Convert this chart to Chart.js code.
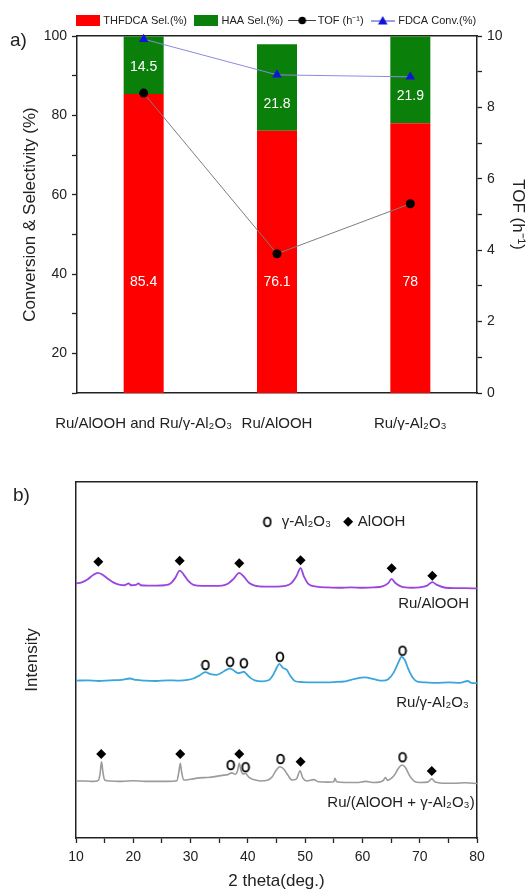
<!DOCTYPE html>
<html>
<head>
<meta charset="utf-8">
<title>Ru catalysts: selectivity, TOF and XRD</title>
<script src="https://cdn.jsdelivr.net/npm/chart.js@4.4.0/dist/chart.umd.min.js"></script>
<style>
  body { margin: 0; background: #fff; }
  #page { position: relative; width: 530px; height: 890px; overflow: hidden; font-family: "Liberation Sans", Arial, sans-serif; color: #222; }
  #page canvas { position: absolute; left: 0; }
  #perf { top: 0; }
  #xrd { top: 430px; }
  .tag { position: absolute; font-size: 19px; line-height: 22px; }
</style>
</head>
<body>
<div id="page">
  <canvas id="perf" width="530" height="430"></canvas>
  <canvas id="xrd" width="530" height="460"></canvas>
  <div class="tag" style="left:10px; top:29px;">a)</div>
  <div class="tag" style="left:13px; top:484px;">b)</div>
</div>
<script>
// ---- a) catalytic performance ----
const catalysts = ['Ru/AlOOH and Ru/γ-Al₂O₃', 'Ru/AlOOH', 'Ru/γ-Al₂O₃'];
const thfdcaSel = [85.4, 76.1, 78];
const haaSel = [14.5, 21.8, 21.9];
const tof = [8.4, 3.9, 5.3];
const fdcaConv = [99.2, 90.2, 89.7];

// ---- b) XRD patterns, [2theta, intensity] ----
const aloohTrace = [
  [10, 71.5], [11, 71.8], [12, 72.6], [13, 73.9], [13.8, 74.5], [14.5, 74.1], [15.5, 72.9], [16.5, 71.8],
  [17.5, 71.2], [18.5, 71.0], [19.2, 71.5], [19.6, 71.0], [20.5, 71.1], [20.9, 71.5], [21.3, 71.0], [22.5, 70.9],
  [24, 70.9], [25.5, 71.0], [26.5, 71.5], [27.3, 73.0], [28.1, 75.1], [28.8, 74.0], [29.6, 72.2], [30.5, 71.1],
  [32, 70.8], [34, 70.8], [35.5, 70.9], [36.5, 71.4], [37.5, 72.8], [38.5, 74.5], [39.3, 73.4], [40.2, 71.7],
  [41.2, 70.9], [43, 70.6], [45, 70.6], [46.5, 70.8], [47.6, 71.6], [48.5, 73.6], [49.2, 75.8], [49.8, 73.4],
  [50.6, 71.3], [52, 70.6], [54, 70.4], [56, 70.3], [58, 70.4], [60, 70.3], [62, 70.4], [63.5, 70.7],
  [64.5, 71.6], [65.1, 72.8], [65.7, 71.7], [66.8, 70.6], [68.5, 70.3], [70, 70.4], [71.3, 70.9], [72.2, 71.9],
  [73.0, 71.1], [74.5, 70.3], [76, 70.2], [78, 70.2], [80, 70.1]
];
const aluminaTrace = [
  [10, 44.2], [12, 44.3], [14, 44.1], [16, 44.3], [18, 44.4], [19.4, 44.8], [20.5, 44.4], [22, 44.2],
  [24, 44.1], [26, 44.3], [28, 44.2], [29.5, 44.4], [30.5, 44.8], [31.5, 45.6], [32.6, 46.6], [33.5, 46.0],
  [34.5, 45.8], [35.5, 46.5], [36.3, 47.3], [36.9, 47.6], [37.6, 47.0], [38.3, 46.3], [38.9, 46.5], [39.3, 46.7],
  [39.8, 46.0], [40.5, 44.9], [41.2, 44.3], [42.5, 44.0], [43.6, 44.3], [44.4, 45.8], [45.0, 47.7], [45.5, 48.9],
  [46.1, 47.8], [46.8, 47.2], [47.4, 45.6], [48.2, 44.1], [49.5, 43.8], [51, 43.7], [53, 43.7], [55, 43.8],
  [57, 44.0], [58.5, 44.6], [60.4, 45.1], [62, 44.6], [63.5, 44.2], [64.5, 44.6], [65.5, 46.6], [66.3, 49.4],
  [66.8, 50.9], [67.4, 50.0], [68.0, 47.5], [68.8, 45.0], [69.6, 43.9], [71, 43.7], [73, 43.6], [75, 43.7],
  [77, 43.6], [78.4, 44.1], [79, 43.6], [80, 43.5]
];
const mixedTrace = [
  [10, 16.0], [11.5, 16.0], [13, 15.9], [13.9, 16.2], [14.2, 18.0], [14.45, 21.4], [14.7, 18.5], [15.0, 16.3],
  [16, 16.0], [18, 15.9], [20, 16.1], [22, 15.9], [24, 15.9], [26, 15.9], [27.6, 16.1], [27.95, 18.5],
  [28.2, 21.0], [28.45, 18.4], [28.8, 16.3], [30, 16.5], [31.5, 16.9], [33, 17.0], [34.5, 17.3], [35.5, 17.6],
  [36.5, 17.8], [37.2, 18.3], [37.8, 17.9], [38.2, 18.9], [38.5, 21.0], [38.8, 19.0], [39.1, 18.0], [39.6, 18.1],
  [40.2, 17.0], [41, 16.4], [42.2, 16.0], [43.4, 16.2], [44.3, 17.3], [45.0, 19.2], [45.6, 20.0], [46.3, 19.3],
  [47.0, 17.6], [47.7, 16.3], [48.5, 16.6], [49.1, 18.9], [49.6, 16.8], [50.3, 16.0], [51.5, 16.4], [52.3, 15.8],
  [54, 15.7], [55.0, 15.8], [55.2, 16.8], [55.5, 15.8], [57, 15.6], [59, 15.6], [60.6, 15.9], [62, 15.6],
  [63.6, 16.1], [64.0, 17.0], [64.4, 16.2], [64.9, 16.6], [65.6, 17.7], [66.3, 19.6], [66.9, 20.5], [67.5, 19.8],
  [68.2, 17.6], [69.0, 16.0], [70, 15.6], [71.4, 15.7], [72.1, 16.6], [72.7, 15.7], [74, 15.4], [76, 15.4],
  [78, 15.5], [80, 15.3]
];
// reflection markers: ◆ AlOOH, o γ-Al2O3
const aloohPeaks = [
  [13.9, 77.6], [28.1, 77.9], [38.5, 77.2], [49.2, 78.0], [65.1, 75.8], [72.2, 73.7],
  [14.4, 23.6], [28.2, 23.6], [38.5, 23.6], [49.2, 21.4], [72.1, 18.8]
];
const aluminaPeaks = [
  [32.6, 48.6], [36.9, 49.5], [39.3, 49.1], [45.6, 50.9], [67.0, 52.6],
  [37.0, 20.5], [39.6, 19.9], [45.7, 22.2], [67.0, 22.7]
];

const FONT = '"Liberation Sans", Arial, sans-serif';
const INK = '#222';
const RED = '#ff0000';
const GREEN = '#0a7f0a';

Chart.defaults.font.family = FONT;
Chart.defaults.color = INK;
Chart.defaults.animation = false;

function markCanvas(w, h, paint) {
  const c = document.createElement('canvas');
  c.width = w;
  c.height = h;
  paint(c.getContext('2d'), w, h);
  return c;
}

const ringMark = markCanvas(10, 12, (g, w, h) => {
  g.strokeStyle = '#000';
  g.lineWidth = 1.8;
  g.beginPath();
  g.ellipse(w / 2, h / 2, 3.4, 4.4, 0, 0, Math.PI * 2);
  g.stroke();
});

const legendMarks = [
  markCanvas(24, 11, g => { g.fillStyle = RED; g.fillRect(0, 0, 24, 11); }),
  markCanvas(24, 11, g => { g.fillStyle = GREEN; g.fillRect(0, 0, 24, 11); }),
  markCanvas(28, 11, g => {
    g.strokeStyle = '#444'; g.lineWidth = 1;
    g.beginPath(); g.moveTo(0, 5.5); g.lineTo(28, 5.5); g.stroke();
    g.fillStyle = '#000';
    g.beginPath(); g.arc(14, 5.5, 3.8, 0, Math.PI * 2); g.fill();
  }),
  markCanvas(24, 11, g => {
    g.strokeStyle = '#3a3ad8'; g.lineWidth = 1;
    g.beginPath(); g.moveTo(0, 6); g.lineTo(24, 6); g.stroke();
    g.fillStyle = '#1212dd';
    g.beginPath(); g.moveTo(12, 1); g.lineTo(16.8, 9.5); g.lineTo(7.2, 9.5); g.closePath(); g.fill();
  })
];

const axisBorder = { display: true, color: INK, width: 1.5 };
const tickGrid = { drawOnChartArea: false, tickLength: 5, tickColor: INK, tickWidth: 1.3 };
const frameOnly = (extra) => Object.assign({
  display: true,
  grid: { display: false },
  ticks: { display: false },
  border: axisBorder
}, extra);

// white numbers printed inside the stacked bars
const barValueLabels = {
  id: 'barValueLabels',
  afterDatasetsDraw(chart) {
    const { ctx } = chart;
    const y = chart.scales.y;
    const bars = chart.getDatasetMeta(0).data;
    ctx.save();
    ctx.fillStyle = '#fff';
    ctx.font = '14px ' + FONT;
    ctx.textAlign = 'center';
    ctx.textBaseline = 'middle';
    bars.forEach((bar, i) => {
      ctx.fillText(String(thfdcaSel[i]), bar.x, y.getPixelForValue(38));
      ctx.fillText(String(haaSel[i]), bar.x, bar.y - 27);
    });
    ctx.restore();
  }
};

// the legend spans the full canvas; nudge it so it sits centred over the plot area
const legendOverPlot = {
  id: 'legendOverPlot',
  afterLayout(chart) {
    const shift = (chart.chartArea.left + chart.chartArea.right) / 2 - chart.width / 2;
    chart.legend.left += shift;
    chart.legend.right += shift;
  }
};

new Chart(document.getElementById('perf'), {
  data: {
    labels: catalysts,
    datasets: [
      { type: 'bar', label: 'THFDCA Sel.(%)', data: thfdcaSel, backgroundColor: RED, stack: 'sel',
        yAxisID: 'y', order: 1, barPercentage: 0.3, categoryPercentage: 1 },
      { type: 'bar', label: 'HAA Sel.(%)', data: haaSel, backgroundColor: GREEN, stack: 'sel',
        yAxisID: 'y', order: 1, barPercentage: 0.3, categoryPercentage: 1 },
      { type: 'line', label: 'TOF (h⁻¹)', data: tof, yAxisID: 'y2', order: 0, clip: false,
        borderColor: '#7d7d7d', borderWidth: 1, pointRadius: 4.5, pointHoverRadius: 4.5,
        pointBackgroundColor: '#000', pointBorderColor: '#000', pointBorderWidth: 0 },
      { type: 'line', label: 'FDCA Conv.(%)', data: fdcaConv, yAxisID: 'y', order: 0, clip: false,
        borderColor: '#8a8ae2', borderWidth: 1, pointStyle: 'triangle', pointRadius: 5.5, pointHoverRadius: 5.5,
        pointBackgroundColor: '#1212dd', pointBorderColor: '#1212dd', pointBorderWidth: 0 }
    ]
  },
  options: {
    responsive: false,
    layout: { padding: { top: 6, left: 0, right: 0, bottom: 0 } },
    plugins: {
      tooltip: { enabled: false },
      legend: {
        position: 'top',
        align: 'center',
        labels: {
          usePointStyle: true,
          pointStyleWidth: 20,
          padding: 9,
          font: { size: 11 },
          color: INK,
          sort: (a, b) => a.datasetIndex - b.datasetIndex,
          generateLabels(chart) {
            const items = Chart.defaults.plugins.legend.labels.generateLabels(chart);
            items.forEach(it => { it.pointStyle = legendMarks[it.datasetIndex]; });
            return items;
          }
        }
      }
    },
    scales: {
      x: {
        stacked: true,
        offset: true,
        grid: { display: false },
        border: axisBorder,
        ticks: { font: { size: 15 }, padding: 14, autoSkip: false, maxRotation: 0 },
        afterFit: s => { s.height = 37; }
      },
      xTop: frameOnly({ type: 'category', position: 'top', afterFit: s => { s.height = 0; } }),
      y: {
        stacked: true,
        min: 10,
        max: 100,
        grid: tickGrid,
        border: axisBorder,
        ticks: { stepSize: 10, autoSkip: false, padding: 5, font: { size: 14 },
          callback: v => (v % 20 === 0 ? v : '') },
        title: { display: true, text: 'Conversion & Selectivity (%)', font: { size: 17 }, padding: { top: 20, bottom: 0 } },
        afterFit: s => { s.width = 77; }
      },
      y2: {
        position: 'right',
        min: 0,
        max: 10,
        grid: tickGrid,
        border: axisBorder,
        ticks: { stepSize: 1, autoSkip: false, padding: 5, font: { size: 14 },
          callback: v => (v % 2 === 0 ? v : '') },
        title: { display: true, text: 'TOF (h⁻¹)', font: { size: 17 }, padding: { top: 2, bottom: 0 } },
        afterFit: s => { s.width = 53; }
      }
    }
  },
  plugins: [barValueLabels, legendOverPlot]
});

// sample names and phase key written on the XRD plot
const xrdNotes = {
  id: 'xrdNotes',
  afterDatasetsDraw(chart) {
    const { ctx } = chart;
    const { x, y } = chart.scales;
    const px = v => x.getPixelForValue(v);
    const py = v => y.getPixelForValue(v);
    ctx.save();
    ctx.fillStyle = INK;
    ctx.font = '15px ' + FONT;
    ctx.textBaseline = 'middle';
    ctx.textAlign = 'right';
    ctx.fillText('Ru/AlOOH', px(78.6), py(65.7));
    ctx.fillText('Ru/γ-Al₂O₃', px(78.6), py(37.9));
    ctx.fillText('Ru/(AlOOH + γ-Al₂O₃)', px(79.6), py(9.8));

    const keyY = py(88.8);
    Chart.helpers.drawPoint(ctx, { pointStyle: ringMark, radius: 5, rotation: 0 }, px(43.4), keyY);
    ctx.fillStyle = '#000';
    Chart.helpers.drawPoint(ctx, { pointStyle: 'rectRot', radius: 5, rotation: 0, borderWidth: 0 }, px(57.5), keyY);
    ctx.fillStyle = INK;
    ctx.textAlign = 'left';
    ctx.fillText('γ-Al₂O₃', px(45.9), keyY);
    ctx.fillText('AlOOH', px(59.2), keyY);
    ctx.restore();
  }
};

new Chart(document.getElementById('xrd'), {
  type: 'line',
  data: {
    datasets: [
      { label: 'AlOOH', data: aloohPeaks, showLine: false, order: 0, pointStyle: 'rectRot',
        pointRadius: 5, pointHoverRadius: 5, pointBackgroundColor: '#000', pointBorderWidth: 0 },
      { label: 'γ-Al₂O₃', data: aluminaPeaks, showLine: false, order: 0, pointStyle: ringMark,
        pointRadius: 5, pointHoverRadius: 5 },
      { label: 'Ru/AlOOH', data: aloohTrace, order: 1, borderColor: '#9a45dd', borderWidth: 1.8,
        pointRadius: 0, cubicInterpolationMode: 'monotone' },
      { label: 'Ru/γ-Al₂O₃', data: aluminaTrace, order: 1, borderColor: '#3aa6dc', borderWidth: 1.8,
        pointRadius: 0, cubicInterpolationMode: 'monotone' },
      { label: 'Ru/(AlOOH + γ-Al₂O₃)', data: mixedTrace, order: 1, borderColor: '#9b9b9b', borderWidth: 1.6,
        pointRadius: 0, cubicInterpolationMode: 'monotone' }
    ]
  },
  options: {
    responsive: false,
    layout: { padding: 0 },
    plugins: { legend: { display: false }, tooltip: { enabled: false } },
    scales: {
      x: {
        type: 'linear',
        min: 10,
        max: 80,
        grid: tickGrid,
        border: axisBorder,
        ticks: { stepSize: 5, autoSkip: false, maxRotation: 0, padding: 6, font: { size: 14 },
          callback: v => (v % 10 === 0 ? v : '') },
        title: { display: true, text: '2 theta(deg.)', font: { size: 17 }, padding: { top: 0, bottom: -2 } },
        afterFit: s => { s.height = 52; }
      },
      xTop: frameOnly({ type: 'linear', position: 'top', min: 10, max: 80, afterFit: s => { s.height = 52; } }),
      y: {
        min: 0,
        max: 100,
        grid: { display: false },
        ticks: { display: false },
        border: axisBorder,
        title: { display: true, text: 'Intensity', font: { size: 17 }, padding: { top: 22, bottom: 0 } },
        afterFit: s => { s.width = 76; }
      },
      yRight: frameOnly({ position: 'right', min: 0, max: 100, afterFit: s => { s.width = 53; } })
    }
  },
  plugins: [xrdNotes]
});
</script>
</body>
</html>
